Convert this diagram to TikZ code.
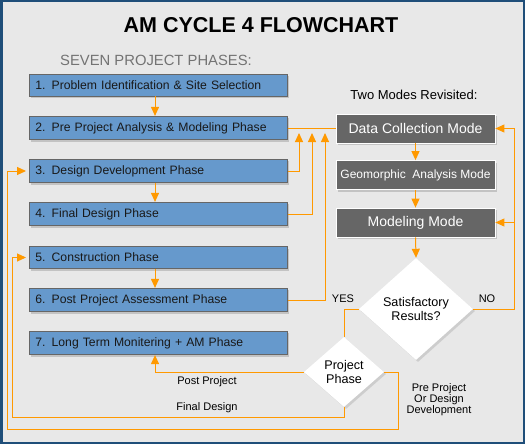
\documentclass[tikz,border=0pt]{standalone}
\usepackage{fontspec}
\setmainfont{Liberation Sans}
\usetikzlibrary{arrows.meta,shapes.geometric,shadows}
\definecolor{bgray}{HTML}{E8E8E8}
\definecolor{frameblue}{HTML}{1F4E79}
\definecolor{phaseblue}{HTML}{6699CC}
\definecolor{modegray}{HTML}{666666}
\definecolor{flowor}{HTML}{FF9900}
\newcommand{\px}[1]{\fontsize{#1}{#1}\selectfont}
\tikzset{
	phase/.style={draw=black!60, fill=phaseblue, anchor=west, text width=246pt, inner sep=6pt,
		minimum height=22pt, align=left, text=black!90, font=\px{12.2}, line width=0.8pt,
		drop shadow={shadow xshift=2pt, shadow yshift=-2pt, opacity=0.35}},
	mode/.style={draw=white, fill=modegray, minimum width=159pt, minimum height=29pt, text=white,
		line width=0.8pt, drop shadow={shadow xshift=2pt, shadow yshift=-2pt, opacity=0.35}},
	choice/.style={diamond, fill=white, inner sep=0pt, align=center, font=\px{12.6},
		drop shadow={shadow xshift=2pt, shadow yshift=-2pt, opacity=0.25}},
	flow/.style={draw=flowor, line width=1pt, -{Triangle[width=8pt,length=9pt]}},
	link/.style={draw=flowor, line width=1pt},
	note/.style={font=\px{11}, align=center}
}
\begin{document}
\begin{tikzpicture}[x=1pt, y=-1pt]
	\useasboundingbox (0,0) rectangle (525,444);
	\fill[bgray] (0,0) rectangle (525,444);
	\draw[frameblue, line width=2.5pt] (1.25,1.25) rectangle (523.75,442.75); %rahmen
	% titel
	\node (title) at (261,25) {\px{21.5}\bfseries AM CYCLE 4 FLOWCHART};
	\node[text=black!55] (phhead) at (156,60) {\px{14.8}SEVEN PROJECT PHASES:};
	\node (mdhead) at (414,95) {\px{13}Two Modes Revisited:};
	% phasen
	\node[phase] (b1) at (29,85) {1. Problem Identification \& Site Selection};
	\node[phase] (b2) at (29,128) {2. Pre Project Analysis \& Modeling Phase};
	\node[phase] (b3) at (29,171) {3. Design Development Phase};
	\node[phase] (b4) at (29,214) {4. Final Design Phase};
	\node[phase] (b5) at (29,257.5) {5. Construction Phase};
	\node[phase] (b6) at (29,300) {6. Post Project Assessment Phase};
	\node[phase] (b7) at (29,343) {7. Long Term Monitering + AM Phase};
	% modi
	\node[mode, font=\px{14}] (dc) at (415.5,128.5) {Data Collection Mode};
	\node[mode, font=\px{12}] (gm) at (415.5,175) {Geomorphic\ \ Analysis Mode};
	\node[mode, font=\px{14}] (mm) at (415.5,222.5) {Modeling Mode};
	% entscheidungen
	\node[choice, minimum width=114pt, minimum height=102pt] (sat) at (416,309) {Satisfactory\\[1pt]Results?};
	\node[choice, minimum width=80pt, minimum height=70pt] (pp) at (344,372) {Project\\[1pt]Phase};
	% hilfspunkte
	\coordinate (ax) at (155,0);
	\coordinate (t1) at (299,133);
	\coordinate (t2) at (312,133);
	\coordinate (t3) at (325,133);
	\coordinate (nox) at (514,0);
	\coordinate (fd) at (12,417);
	\coordinate (pr) at (398,372);
	\coordinate (pd) at (7,429);
	% pfeile links
	\draw[flow] (ax|-b1.south) -- (ax|-b2.north);
	\draw[flow] (ax|-b3.south) -- (ax|-b4.north);
	\draw[flow] (ax|-b5.south) -- (ax|-b6.north);
	\draw[link] (b2.east) -- (b2.east-|dc.west);
	\draw[flow] (b3.east) -| (t1);
	\draw[flow] (b4.east) -| (t2);
	\draw[flow] (b6.east) -| (t3);
	% pfeile rechts
	\draw[flow] (dc.south) -- (gm.north);
	\draw[flow] (gm.south) -- (mm.north);
	\draw[flow] (mm.south) -- (sat.north);
	\draw[flow] (sat.east) -- (nox|-sat.east) |- (dc.east);
	\draw[flow] (nox|-mm.east) -- (mm.east);
	\draw[link] (sat.west) -| (pp.north);
	\draw[flow] (pp.west) -| (ax|-b7.south);
	\draw[flow] (pp.south) |- (fd) |- ([xshift=-3pt]b5.west);
	\draw[flow] (pp.east) -- (pr) |- (pd) |- ([xshift=-3pt]b3.west);
	% beschriftung
	\node[note] (yes) at (343,299) {YES};
	\node[note] (no) at (487,299) {NO};
	\node[note] (post) at (207,382) {Post Project};
	\node[note] (final) at (207,408) {Final Design};
	\node[note] (pre) at (439,400) {Pre Project\\Or Design\\Development};
\end{tikzpicture}
\end{document}
